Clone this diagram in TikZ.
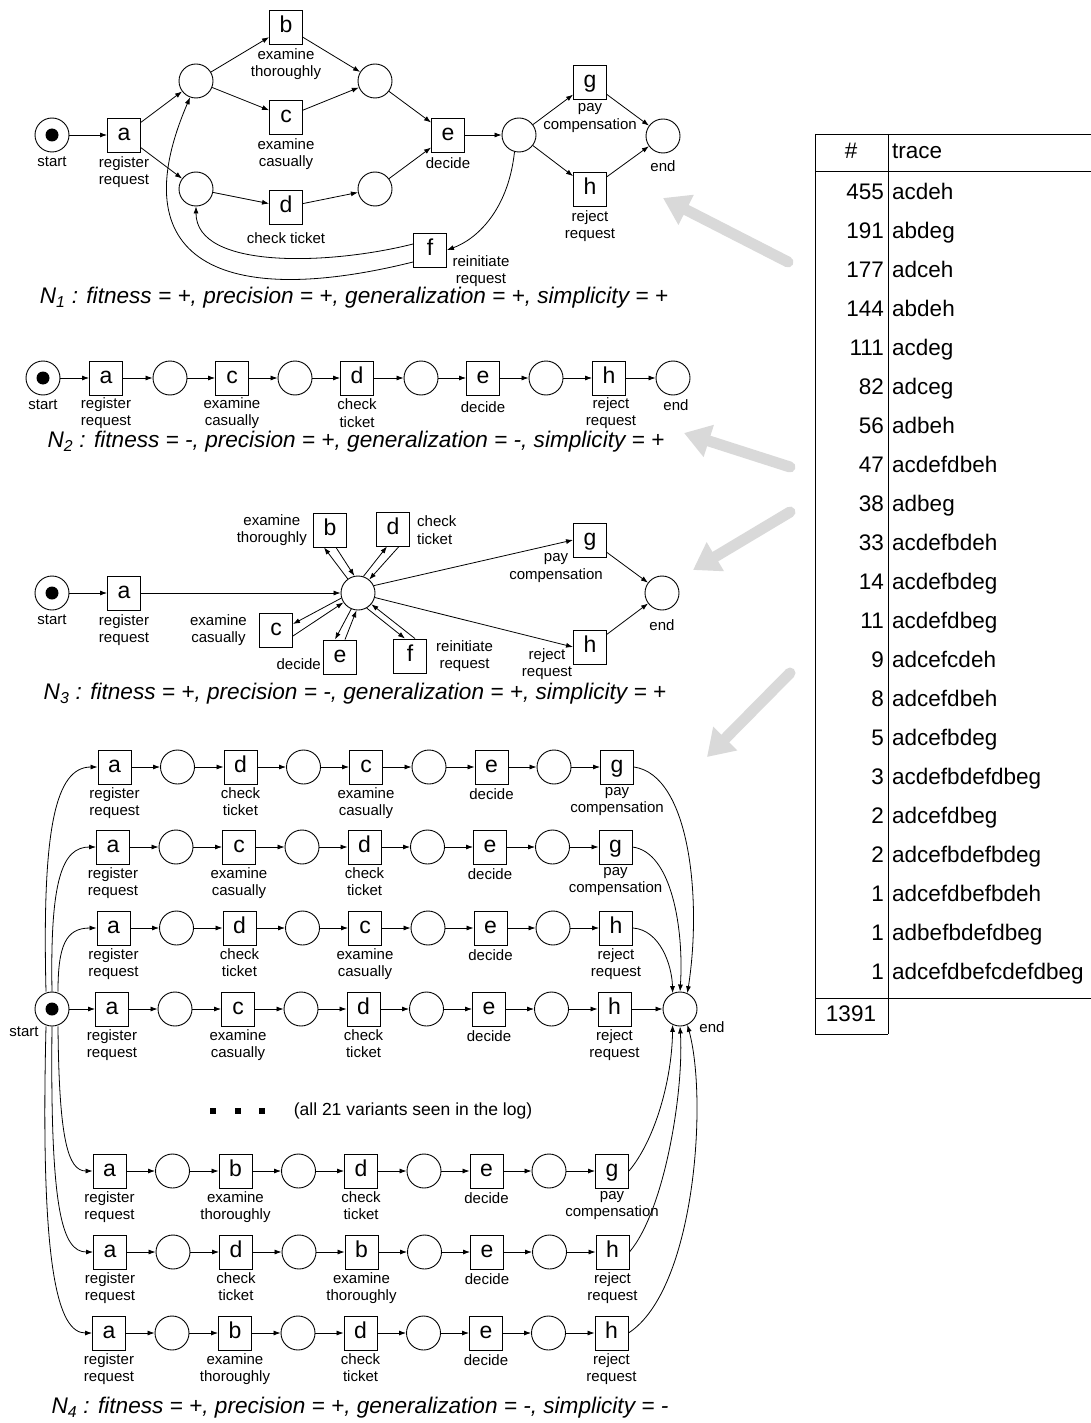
\documentclass[tikz,border=0pt]{standalone}
\usepackage{fontspec}
\setmainfont{Liberation Sans}
\usetikzlibrary{arrows.meta,calc}
\definecolor{garr}{RGB}{217,217,217}
\newcommand\LBa{register\\request}
\newcommand\LBb{examine\\thoroughly}
\newcommand\LBc{examine\\casually}
\newcommand\LBd{check\\ticket}
\newcommand\LBe{decide}
\newcommand\LBg{pay\\compensation}
\newcommand\LBh{reject\\request}
\begin{document}
\begin{tikzpicture}[x=1pt,y=-1pt,
  trans/.style={draw, line width=0.9pt, minimum width=33pt, minimum height=34pt, inner sep=0pt, font=\fontsize{23}{23}\selectfont, text height=16.5pt, text depth=4.8pt},
  place/.style={draw, circle, minimum size=34pt, inner sep=0pt, line width=0.9pt},
  tok/.style={circle, fill=black, minimum size=13pt, inner sep=0pt},
  lbl/.style={font=\fontsize{15}{17.5}\selectfont, align=center, inner sep=0pt},
  arc/.style={-{Latex[length=7pt,width=5pt]}, line width=0.8pt},
  capt/.style={font=\fontsize{22.6}{22.6}\selectfont\itshape, inner sep=0pt},
  tcell/.style={font=\fontsize{22.5}{22.5}\selectfont, inner sep=0pt, text height=16pt, text depth=4.5pt},
  garrow/.style={line width=11pt, line cap=round, draw=garr, -{Triangle[length=26pt,width=32pt]}},
  sq/.style={fill=black, minimum size=6pt, inner sep=0pt}
]
\useasboundingbox (0,0) rectangle (1091,1423);
\fill[white] (0,0) rectangle (1091,1423);

% ---------------- N1 ----------------
\node[place] (s1) at (52,135) {};
\node[tok] (k1) at (s1) {};
\node[trans] (a1) at (124,135) {a};
\node[place] (p11) at (196,81) {};
\node[place] (p12) at (196,189) {};
\node[trans] (b1) at (286,27) {b};
\node[trans] (c1) at (286,117) {c};
\node[trans] (d1) at (286,207) {d};
\node[place] (p13) at (375,81) {};
\node[place] (p14) at (375,189) {};
\node[trans] (e1) at (448,135) {e};
\node[place] (p15) at (519,135) {};
\node[trans] (g1) at (590,82) {g};
\node[trans] (h1) at (590,189) {h};
\node[place] (en1) at (663,136) {};
\node[trans] (f1) at (430,250) {f};

\node[lbl] (l1s) at (52,162) {start};
\node[lbl] (l1a) at (124,172) {\LBa};
\node[lbl] (l1b) at (286,64) {\LBb};
\node[lbl] (l1c) at (286,154) {\LBc};
\node[lbl] (l1d) at (286,238) {check ticket};
\node[lbl] (l1e) at (448,163) {decide};
\node[lbl] (l1g) at (590,118) {\LBg};
\node[lbl] (l1h) at (590,226) {\LBh};
\node[lbl] (l1en) at (663,166) {end};
\node[lbl] (l1f) at (481,271) {reinitiate\\request};
\node[capt] (cap1) at (354,298) {N\textsubscript{1} : fitness = +, precision = +, generalization = +, simplicity = +};

\draw[arc] (s1) -- (a1);
\draw[arc] (a1) -- (p11);
\draw[arc] (a1) -- (p12);
\draw[arc] (p11) -- (b1);
\draw[arc] (p11) -- (c1);
\draw[arc] (p12) -- (d1);
\draw[arc] (b1) -- (p13);
\draw[arc] (c1) -- (p13);
\draw[arc] (d1) -- (p14);
\draw[arc] (p13) -- (e1);
\draw[arc] (p14) -- (e1);
\draw[arc] (e1) -- (p15);
\draw[arc] (p15) -- (g1);
\draw[arc] (p15) -- (h1);
\draw[arc] (g1) -- (en1);
\draw[arc] (h1) -- (en1);
\draw[arc] (p15.255) .. controls (508,212) and (475,240) .. (f1.east);
\draw[arc] ([yshift=6pt]f1.west) .. controls (330,265) and (196,270) .. (p12.south);
\draw[arc] ([yshift=-12pt]f1.west) .. controls (220,310) and (120,260) .. (p11.250);

% ---------------- N2 ----------------
\node[place] (s2) at (43,378) {};
\node[tok] (k2) at (s2) {};
\node[trans] (a2) at (106,378) {a};
\node[place] (q21) at (170,378) {};
\node[trans] (c2) at (232,378) {c};
\node[place] (q22) at (295,378) {};
\node[trans] (d2) at (357,378) {d};
\node[place] (q23) at (421,378) {};
\node[trans] (e2) at (483,378) {e};
\node[place] (q24) at (546,378) {};
\node[trans] (h2) at (609,378) {h};
\node[place] (en2) at (673,378) {};
\node[lbl] (l2s) at (43,405) {start};
\node[lbl] (l2a) at (106,413) {\LBa};
\node[lbl] (l2c) at (232,413) {\LBc};
\node[lbl] (l2d) at (357,413) {\LBd};
\node[lbl] (l2e) at (483,407) {decide};
\node[lbl] (l2h) at (611,413) {\LBh};
\node[lbl] (l2en) at (676,405) {end};
\node[capt] (cap2) at (356,442) {N\textsubscript{2} : fitness = -, precision = +, generalization = -, simplicity = +};
\draw[arc] (s2) -- (a2);
\draw[arc] (a2) -- (q21);
\draw[arc] (q21) -- (c2);
\draw[arc] (c2) -- (q22);
\draw[arc] (q22) -- (d2);
\draw[arc] (d2) -- (q23);
\draw[arc] (q23) -- (e2);
\draw[arc] (e2) -- (q24);
\draw[arc] (q24) -- (h2);
\draw[arc] (h2) -- (en2);

% ---------------- N3 ----------------
\node[place] (s3) at (52,593) {};
\node[tok] (k3) at (s3) {};
\node[trans] (a3) at (124,593) {a};
\node[place] (pc) at (358,593) {};
\node[trans] (b3) at (330,530) {b};
\node[trans] (d3) at (393,529) {d};
\node[trans] (g3) at (590,540) {g};
\node[trans] (h3) at (590,647) {h};
\node[place] (en3) at (662,593) {};
\node[trans] (c3) at (276,630) {c};
\node[trans] (e3) at (340,657) {e};
\node[trans] (f3) at (410,656) {f};
\node[lbl] (l3s) at (52,620) {start};
\node[lbl] (l3a) at (124,630) {\LBa};
\node[lbl, anchor=east] (l3b) at (307,530) {\LBb};
\node[lbl, anchor=west, align=left] (l3d) at (417,530) {\LBd};
\node[lbl] (l3g) at (556,568) {\LBg};
\node[lbl, anchor=east] (l3c) at (247,630) {\LBc};
\node[lbl, anchor=east] (l3e) at (321,664) {decide};
\node[lbl, anchor=west] (l3f) at (436,656) {reinitiate\\request};
\node[lbl] (l3h) at (547,664) {\LBh};
\node[lbl] (l3en) at (662,625) {end};
\node[capt] (cap3) at (355,694) {N\textsubscript{3} : fitness = +, precision = -, generalization = +, simplicity = +};
\draw[arc] (s3) -- (a3);
\draw[arc] (a3) -- (pc);
\draw[arc] (pc.126) -- ([xshift=-6pt]b3.south);
\draw[arc] ([xshift=6pt]b3.south) -- (pc.102);
\draw[arc] (pc.72) -- ([xshift=-6pt]d3.south);
\draw[arc] ([xshift=6pt]d3.south) -- (pc.50);
\draw[arc] (pc.197) -- ([yshift=6pt]c3.east);
\draw[arc] ([yshift=-6pt]c3.east) -- (pc.213);
\draw[arc] (pc.247) -- ([xshift=-5pt]e3.north);
\draw[arc] ([xshift=5pt]e3.north) -- (pc.265);
\draw[arc] (pc.300) -- ([xshift=-5pt]f3.north);
\draw[arc] ([xshift=5pt]f3.north) -- (pc.320);
\draw[arc] (pc.25) -- (g3.west);
\draw[arc] (pc.-15) -- (h3.west);
\draw[arc] (g3) -- (en3);
\draw[arc] (h3) -- (en3);

% ---------------- N4 ----------------
\node[place] (s4) at (52,1009) {};
\node[tok] (k4) at (s4) {};
\node[place] (en4) at (680,1009) {};
\node[lbl] (l4s) at (24,1032) {start};
\node[lbl] (l4en) at (712,1027) {end};
\foreach \r/\y/\dx/\va/\vb/\vc in {1/767/0/d/c/g, 2/847/-1.5/c/d/g, 3/928/-1/d/c/h, 4/1009/-2.5/c/d/h, 5/1171/-5/b/d/g, 6/1252/-4.5/d/b/h, 7/1333/-5.5/b/d/h}{
  \node[trans] (r\r-a) at ({114.5+\dx},\y) {a};
  \node[place] (r\r-p1) at ({177.5+\dx},\y) {};
  \node[trans] (r\r-t2) at ({240.5+\dx},\y) {\va};
  \node[place] (r\r-p2) at ({303.5+\dx},\y) {};
  \node[trans] (r\r-t3) at ({366+\dx},\y) {\vb};
  \node[place] (r\r-p3) at ({429+\dx},\y) {};
  \node[trans] (r\r-e) at ({491.5+\dx},\y) {e};
  \node[place] (r\r-p4) at ({554+\dx},\y) {};
  \node[trans] (r\r-t5) at ({617+\dx},\y) {\vc};
  \node[lbl, anchor=north] (r\r-la) at ({114.5+\dx},{\y+20}) {\LBa};
  \node[lbl, anchor=north] (r\r-lb) at ({240.5+\dx},{\y+20}) {\csname LB\va\endcsname};
  \node[lbl, anchor=north] (r\r-lc) at ({366+\dx},{\y+20}) {\csname LB\vb\endcsname};
  \node[lbl, anchor=north] (r\r-le) at ({491.5+\dx},{\y+21}) {decide};
  \node[lbl, anchor=north] (r\r-lg) at ({617+\dx},{\y+20}) {\csname LB\vc\endcsname};
  \draw[arc] (r\r-a) -- (r\r-p1);
  \draw[arc] (r\r-p1) -- (r\r-t2);
  \draw[arc] (r\r-t2) -- (r\r-p2);
  \draw[arc] (r\r-p2) -- (r\r-t3);
  \draw[arc] (r\r-t3) -- (r\r-p3);
  \draw[arc] (r\r-p3) -- (r\r-e);
  \draw[arc] (r\r-e) -- (r\r-p4);
  \draw[arc] (r\r-p4) -- (r\r-t5);
}
\draw[arc] ([xshift=-6pt]s4.north) .. controls (42,830) and (55,767) .. (r1-a.west);
\draw[arc] (s4.north) .. controls (50,880) and (62,847) .. (r2-a.west);
\draw[arc] ([xshift=6pt]s4.north) .. controls (58,945) and (66,928) .. (r3-a.west);
\draw[arc] (s4) -- (r4-a);
\draw[arc] ([xshift=6pt]s4.south) .. controls (59,1140) and (68,1171) .. (r5-a.west);
\draw[arc] (s4.south) .. controls (50,1210) and (62,1252) .. (r6-a.west);
\draw[arc] ([xshift=-6pt]s4.south) .. controls (40,1270) and (58,1333) .. (r7-a.west);
\draw[arc] (r1-t5.east) .. controls (690,775) and (702,900) .. (en4.65);
\draw[arc] (r2-t5.east) .. controls (672,852) and (684,930) .. (en4.90);
\draw[arc] (r3-t5.east) .. controls (660,930) and (672,965) .. (en4.115);
\draw[arc] (r4-t5) -- (en4);
\draw[arc] (r5-t5.east) .. controls (655,1140) and (672,1080) .. (en4.245);
\draw[arc] (r6-t5.east) .. controls (665,1210) and (684,1090) .. (en4.270);
\draw[arc] (r7-t5.east) .. controls (695,1290) and (708,1100) .. (en4.295);
\node[sq] (dot1) at (213,1111) {};
\node[sq] (dot2) at (238,1111) {};
\node[sq] (dot3) at (262,1111) {};
\node[lbl, font=\fontsize{17.5}{19}\selectfont] (allv) at (413,1111) {(all 21 variants seen in the log)};
\node[capt] (cap4) at (360,1408) {N\textsubscript{4} : fitness = +, precision = +, generalization = -, simplicity = -};

% ---------------- table ----------------
\draw[line width=0.9pt] (815,134) -- (1091,134);
\draw[line width=0.9pt] (815,171) -- (1091,171);
\draw[line width=0.9pt] (815,998) -- (1091,998);
\draw[line width=0.9pt] (815,1034) -- (888,1034);
\draw[line width=0.9pt] (815,134) -- (815,1034);
\draw[line width=0.9pt] (888,134) -- (888,1034);
\node[tcell] (hn) at (851,153) {\#};
\node[tcell, anchor=west] (ht) at (892,153) {trace};
\foreach \n/\tr [count=\i from 0] in {455/acdeh, 191/abdeg, 177/adceh, 144/abdeh, 111/acdeg, 82/adceg, 56/adbeh, 47/acdefdbeh, 38/adbeg, 33/acdefbdeh, 14/acdefbdeg, 11/acdefdbeg, 9/adcefcdeh, 8/adcefdbeh, 5/adcefbdeg, 3/acdefbdefdbeg, 2/adcefdbeg, 2/adcefbdefbdeg, 1/adcefdbefbdeh, 1/adbefbdefdbeg, 1/adcefdbefcdefdbeg}{
  \node[tcell, anchor=east] (tn\i) at (884,{194+39*\i}) {\n};
  \node[tcell, anchor=west] (tt\i) at (892,{194+39*\i}) {\tr};
}
\node[tcell] (tot) at (851,1016) {1391};

% ---------------- gray arrows ----------------
\coordinate (ga1s) at (788,262); \coordinate (ga1e) at (663,198);
\coordinate (ga2s) at (790,467); \coordinate (ga2e) at (684,433);
\coordinate (ga3s) at (790,512); \coordinate (ga3e) at (693,570);
\coordinate (ga4s) at (790,673); \coordinate (ga4e) at (707,757);
\draw[garrow] (ga1s) -- (ga1e);
\draw[garrow] (ga2s) -- (ga2e);
\draw[garrow] (ga3s) -- (ga3e);
\draw[garrow] (ga4s) -- (ga4e);
\end{tikzpicture}
\end{document}
